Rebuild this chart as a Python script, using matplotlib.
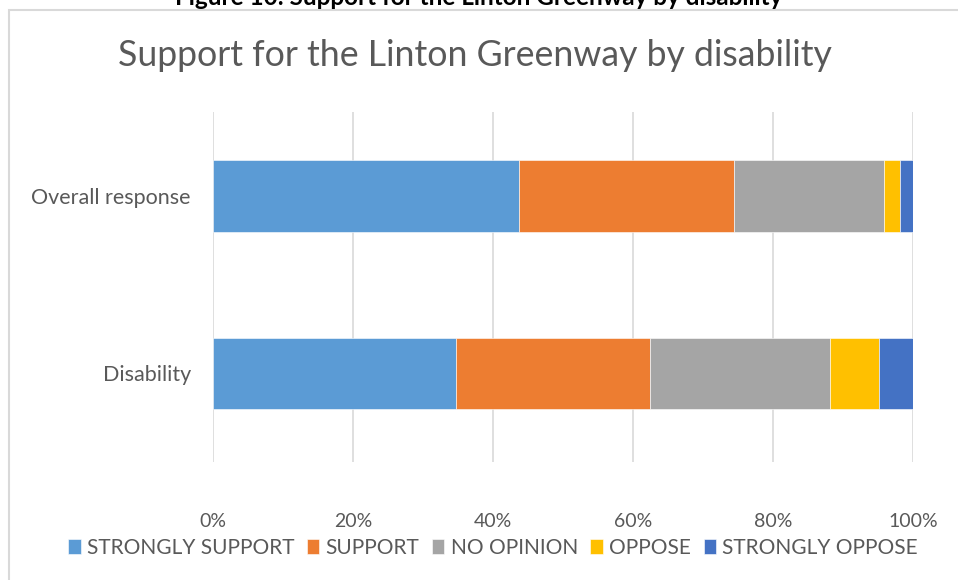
import numpy as np
import matplotlib.pyplot as plt
from matplotlib.patches import Rectangle

# groups, bottom row first so "Overall response" sits on top
groups = ["Disability", "Overall response"]
responses = ["STRONGLY SUPPORT", "SUPPORT", "NO OPINION", "OPPOSE", "STRONGLY OPPOSE"]
strongly_support = [34.7, 43.7]
support = [27.7, 30.7]
no_opinion = [25.7, 21.4]
oppose = [7.0, 2.4]
strongly_oppose = [4.9, 1.8]
colors = ["#5B9BD5", "#ED7D31", "#A5A5A5", "#FFC000", "#4472C4"]
xticks = [0, 20, 40, 60, 80, 100]

plt.rcParams['font.family'] = ['Lato', 'DejaVu Sans']
grey = "#595959"

fig = plt.figure(figsize=(9.58, 5.8), dpi=100)
W, H = 958, 580

# chart frame
fig.patches.append(Rectangle((9 / W, -0.1), 1.1, 1 - 10 / H + 0.1, transform=fig.transFigure,
                             facecolor="none", edgecolor="#d9d9d9", lw=1.5, zorder=-1))

# caption above the chart (runs off the top)
fig.text(0.5, 1 - 5 / H, "Figure 10: Support for the Linton Greenway by disability",
         ha="center", va="baseline", fontsize=17.5, fontweight="bold", color="black")

ax = fig.add_axes([213 / W, 1 - 462 / H, 700 / W, (462 - 112) / H])
ax.set_facecolor("none")

y = np.arange(len(groups))
left = np.zeros(len(groups))
for name, vals, c in zip(responses, [strongly_support, support, no_opinion, oppose, strongly_oppose], colors):
    ax.barh(y, vals, left=left, height=0.405, color=c, label=name,
            edgecolor="white", linewidth=0.4, zorder=3)
    left += np.array(vals)

ax.set_xlim(0, 100)
ax.set_ylim(-0.4986, 1.473)
ax.set_xticks(xticks)
ax.set_xticklabels([f"{t}%" for t in xticks], fontsize=14, color=grey)
ax.set_yticks(y)
ax.set_yticklabels(groups, fontsize=15.5, color=grey)
ax.tick_params(length=0, pad=37, axis="x")
ax.tick_params(length=0, pad=16, axis="y")
ax.grid(axis="x", color="#d9d9d9", lw=1.2, zorder=0)
for s in ax.spines.values():
    s.set_visible(False)

fig.text(475 / W, 1 - 56 / H, "Support for the Linton Greenway by disability",
         ha="center", va="center", fontsize=25.7, color=grey)

fig.legend(loc="center", bbox_to_anchor=(493 / W, 1 - 548 / H), ncol=5, frameon=False,
           fontsize=15, labelcolor=grey, handlelength=0.6, handleheight=0.7,
           handletextpad=0.3, columnspacing=0.6)

fig.savefig("out.png", dpi=100)
